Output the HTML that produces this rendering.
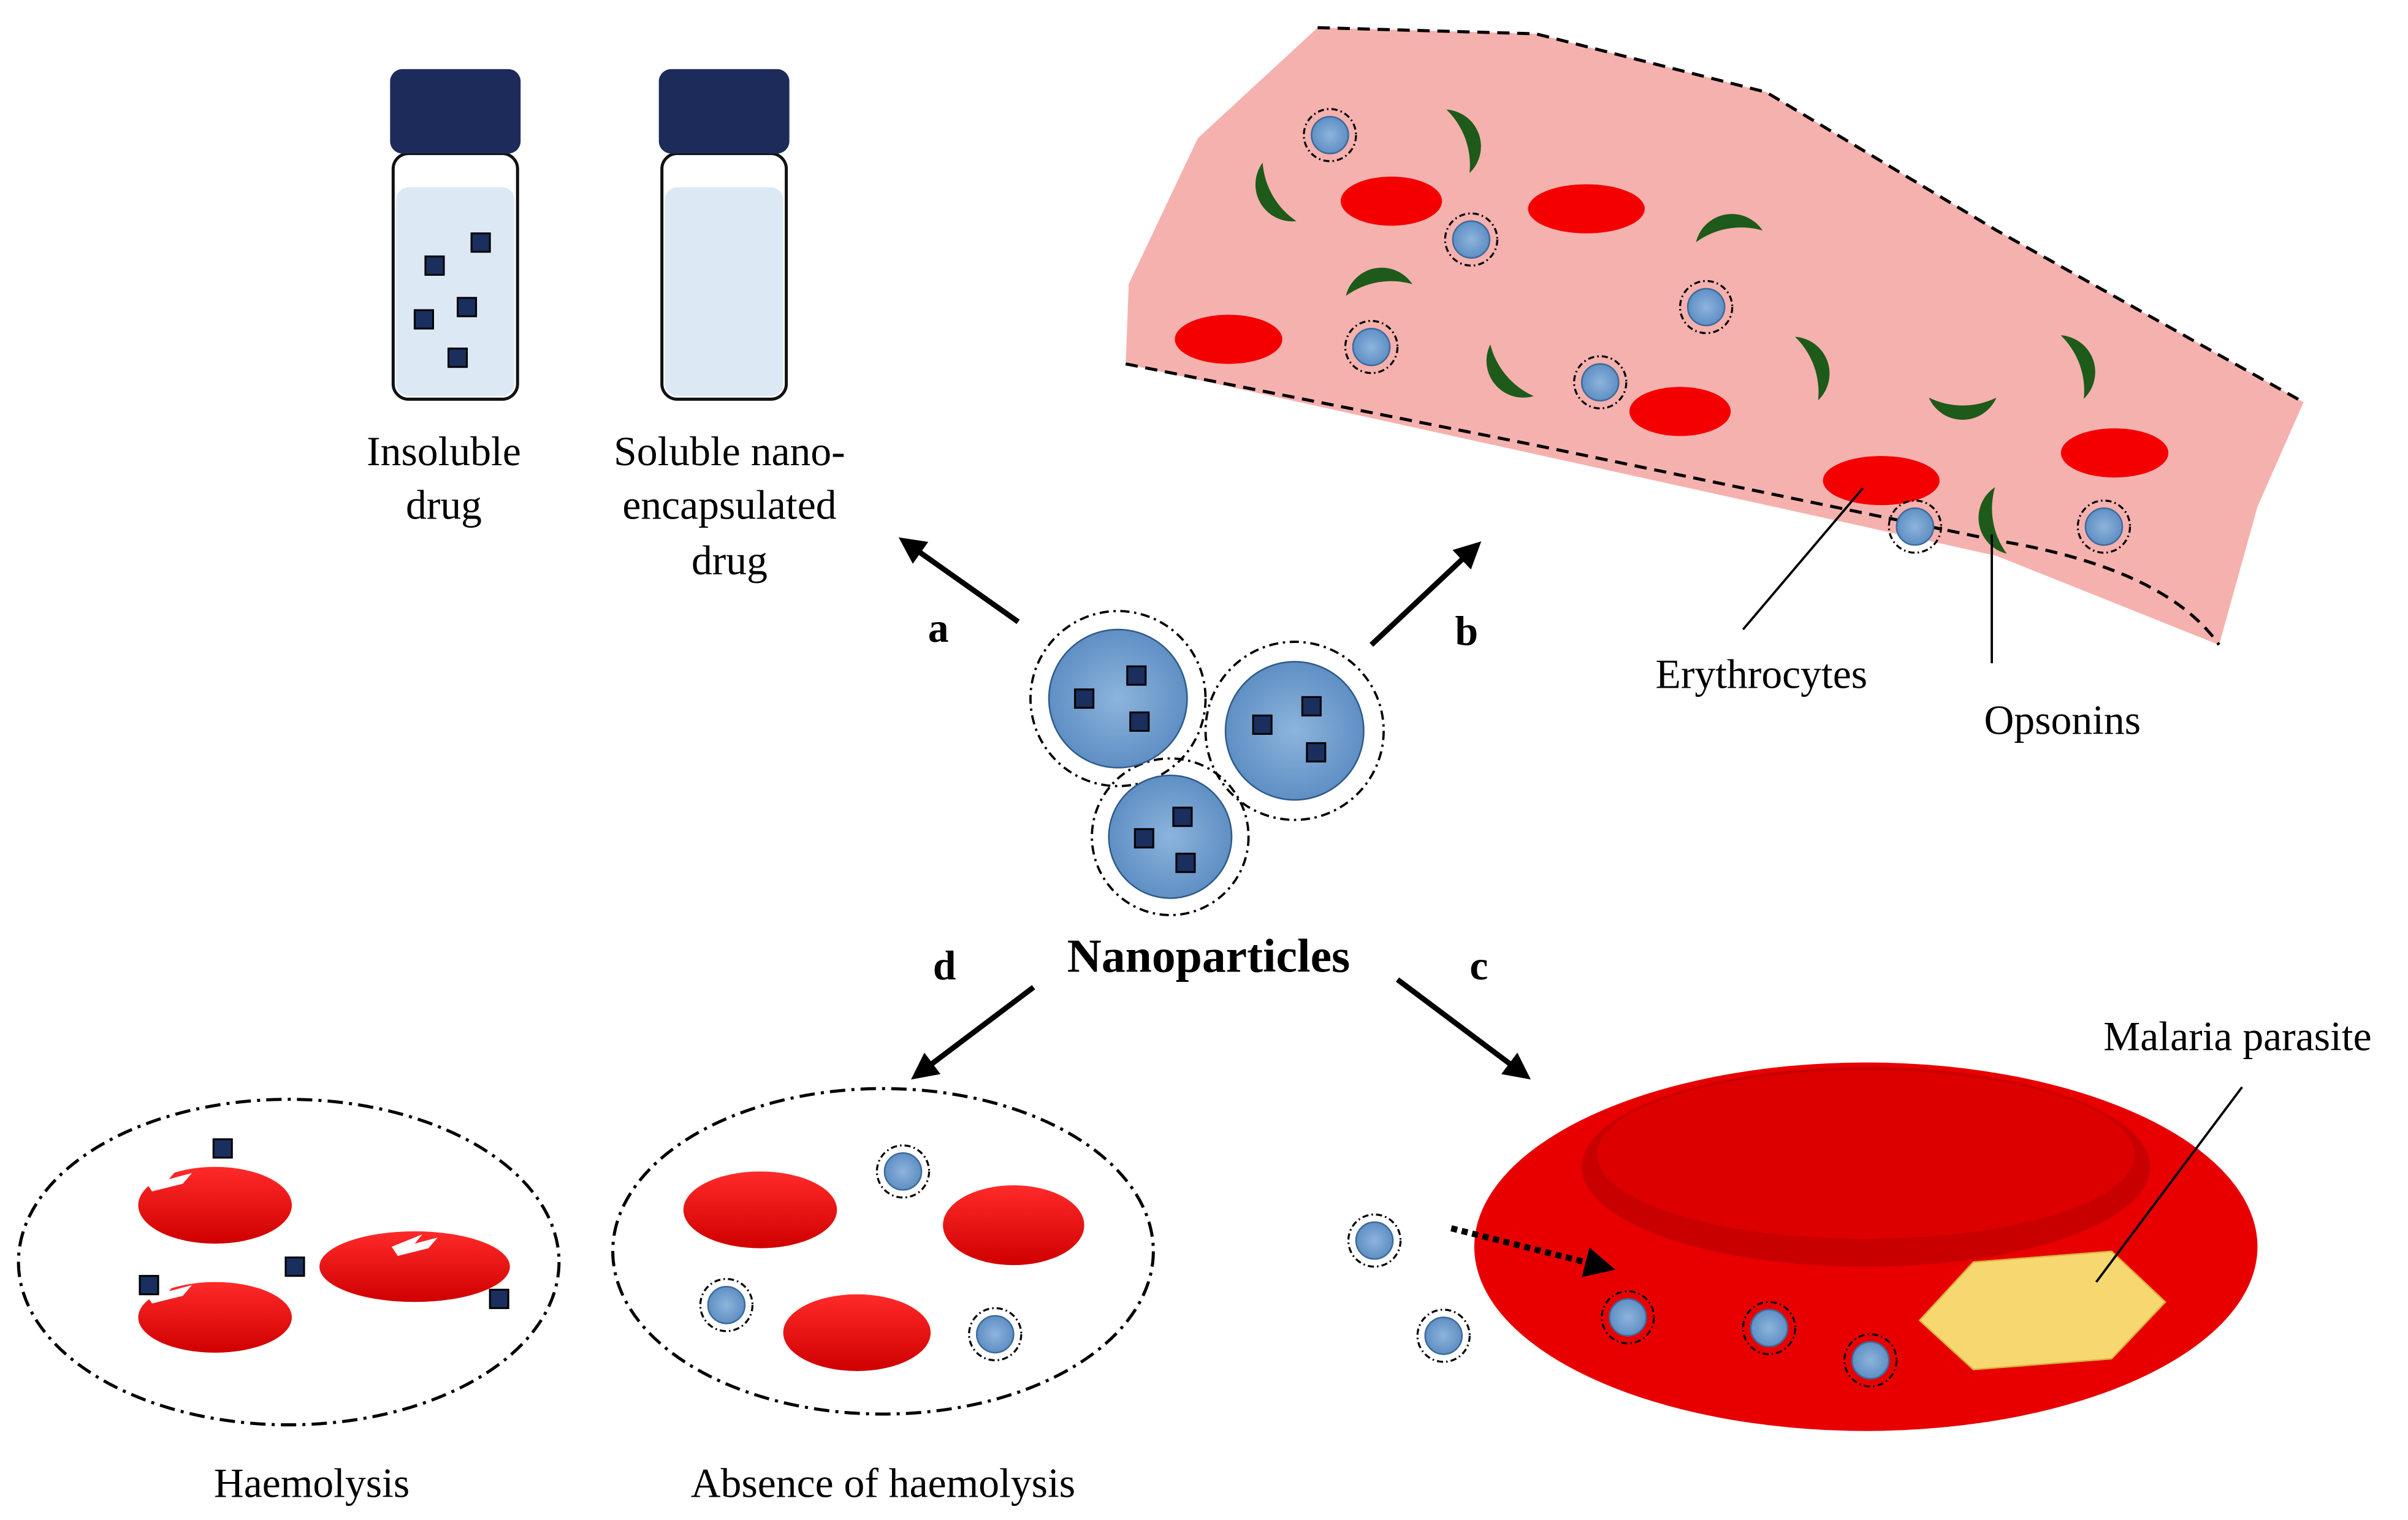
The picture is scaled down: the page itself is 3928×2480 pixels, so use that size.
<!DOCTYPE html>
<html><head><meta charset="utf-8"><style>
html,body{margin:0;padding:0;background:#fff}
svg{display:block}
text{font-family:"Liberation Serif",serif;fill:#000}
</style></head><body>
<svg width="3928" height="2480" viewBox="0 0 1568 990" xmlns="http://www.w3.org/2000/svg">
<defs>
<marker id="ah" viewBox="0 0 10 10" refX="8" refY="5" markerWidth="5" markerHeight="5" orient="auto"><path d="M0,0L10,5L0,10z" fill="#000"/></marker>
<radialGradient id="np" cx="50%" cy="50%" r="50%"><stop offset="0" stop-color="#8db4dc"/><stop offset="1" stop-color="#5f8fc4"/></radialGradient>
<linearGradient id="rbc" x1="0" y1="0" x2="0" y2="1"><stop offset="0" stop-color="#ff2a2a"/><stop offset="1" stop-color="#d00000"/></linearGradient>
<g id="snp"><circle r="17" fill="none" stroke="#000" stroke-width="1.3" stroke-dasharray="4,2,1,2"/><circle r="12" fill="url(#np)" stroke="#3d6a9a"/></g>
<g id="cube"><rect x="-6" y="-6" width="12" height="12" fill="#1a2f5e" stroke="#000" stroke-width="1.2"/></g>
<g id="cres"><path d="M-22,-6 A24,24 0 0 0 22,-6 A50,50 0 0 1 -22,-6z" fill="#1e5a1a"/></g>
</defs>

<!-- Vials -->
<g>
<rect x="256" y="100" width="81" height="160" rx="10" fill="#fff" stroke="#111" stroke-width="2"/>
<rect x="258" y="122" width="77" height="136" rx="8" fill="#dce9f5"/>
<rect x="254" y="45" width="85" height="55" rx="8" fill="#1c2b5a"/>
<use href="#cube" x="283" y="173"/><use href="#cube" x="313" y="158"/><use href="#cube" x="276" y="208"/><use href="#cube" x="304" y="200"/><use href="#cube" x="298" y="233"/>
<rect x="431" y="100" width="81" height="160" rx="10" fill="#fff" stroke="#111" stroke-width="2"/>
<rect x="433" y="122" width="77" height="136" rx="8" fill="#dce9f5"/>
<rect x="429" y="45" width="85" height="55" rx="8" fill="#1c2b5a"/>
</g>
<text x="289" y="303" font-size="27" text-anchor="middle">Insoluble</text>
<text x="289" y="338" font-size="27" text-anchor="middle">drug</text>
<text x="475" y="303" font-size="27" text-anchor="middle">Soluble nano-</text>
<text x="475" y="338" font-size="27" text-anchor="middle">encapsulated</text>
<text x="475" y="374" font-size="27" text-anchor="middle">drug</text>

<!-- arrows -->
<g stroke="#000" stroke-width="3.5" fill="none" marker-end="url(#ah)">
<line x1="663" y1="405" x2="588" y2="352"/>
<line x1="893" y1="420" x2="962" y2="355"/>
<line x1="673" y1="643" x2="596" y2="701"/>
<line x1="910" y1="638" x2="994" y2="701"/>
</g>
<text x="611" y="418" font-size="27" font-weight="bold" text-anchor="middle">a</text>
<text x="955" y="420" font-size="27" font-weight="bold" text-anchor="middle">b</text>
<text x="615" y="638" font-size="27" font-weight="bold" text-anchor="middle">d</text>
<text x="963" y="638" font-size="27" font-weight="bold" text-anchor="middle">c</text>
<text x="787" y="633" font-size="31" font-weight="bold" text-anchor="middle">Nanoparticles</text>

<!-- big nanoparticles -->
<g stroke="#000" stroke-width="1.5" fill="none" stroke-dasharray="6,3,1.5,3">
<circle cx="728" cy="455" r="57"/><circle cx="843" cy="476" r="58"/><circle cx="762" cy="545" r="51"/>
</g>
<circle cx="728" cy="455" r="45" fill="url(#np)" stroke="#2f5a8a"/>
<circle cx="843" cy="476" r="45" fill="url(#np)" stroke="#2f5a8a"/>
<circle cx="762" cy="545" r="40" fill="url(#np)" stroke="#2f5a8a"/>
<use href="#cube" x="740" y="440"/><use href="#cube" x="706" y="455"/><use href="#cube" x="742" y="470"/>
<use href="#cube" x="822" y="472"/><use href="#cube" x="854" y="460"/><use href="#cube" x="857" y="490"/>
<use href="#cube" x="770" y="532"/><use href="#cube" x="745" y="546"/><use href="#cube" x="772" y="562"/>

<!-- vessel -->
<path d="M858,18 L1000,22 L1150,60 L1300,150 L1500,262 L1470,330 L1445,420 L1300,362 L733,237 L735,185 L780,90 Z" fill="#f5b1ae"/>
<path d="M858,18 L1000,22 L1150,60 L1300,150 L1500,262" fill="none" stroke="#000" stroke-width="2" stroke-dasharray="8,5"/>
<path d="M733,237 L1000,290 L1300,352 Q1410,370 1445,420" fill="none" stroke="#000" stroke-width="2" stroke-dasharray="8,5"/>
<g fill="#f50000">
<ellipse cx="906" cy="131" rx="33" ry="16"/><ellipse cx="1033" cy="136" rx="38" ry="16"/><ellipse cx="800" cy="221" rx="35" ry="16"/>
<ellipse cx="1094" cy="268" rx="33" ry="16"/><ellipse cx="1225" cy="313" rx="38" ry="16"/><ellipse cx="1377" cy="295" rx="35" ry="16"/>
</g>
<use href="#cres" transform="translate(955,90) rotate(-110)"/>
<use href="#cres" transform="translate(828,128) rotate(60)"/>
<use href="#cres" transform="translate(1125,148) rotate(170)"/>
<use href="#cres" transform="translate(897,183) rotate(170)"/>
<use href="#cres" transform="translate(980,245) rotate(50)"/>
<use href="#cres" transform="translate(1182,238) rotate(-110)"/>
<use href="#cres" transform="translate(1278,265) rotate(0)"/>
<use href="#cres" transform="translate(1355,237) rotate(-110)"/>
<use href="#cres" transform="translate(1297,340) rotate(80)"/>
<use href="#snp" x="866" y="88"/><use href="#snp" x="958" y="156"/><use href="#snp" x="893" y="226"/><use href="#snp" x="1111" y="200"/>
<use href="#snp" x="1042" y="249"/><use href="#snp" x="1247" y="343"/><use href="#snp" x="1370" y="343"/>
<line x1="1135" y1="410" x2="1213" y2="318" stroke="#000" stroke-width="1.5"/>
<line x1="1297" y1="432" x2="1297" y2="348" stroke="#000" stroke-width="1.5"/>
<text x="1147" y="448" font-size="27" text-anchor="middle">Erythrocytes</text>
<text x="1343" y="478" font-size="27" text-anchor="middle">Opsonins</text>

<!-- haemolysis -->
<ellipse cx="188" cy="822" rx="176" ry="106" fill="none" stroke="#000" stroke-width="2" stroke-dasharray="10,4,2,4"/>
<ellipse cx="575" cy="815" rx="176" ry="106" fill="none" stroke="#000" stroke-width="2" stroke-dasharray="10,4,2,4"/>
<g fill="url(#rbc)">
<ellipse cx="140" cy="785" rx="50" ry="25"/><ellipse cx="270" cy="825" rx="62" ry="23"/><ellipse cx="140" cy="858" rx="50" ry="23"/>
<ellipse cx="495" cy="788" rx="50" ry="25"/><ellipse cx="660" cy="798" rx="46" ry="26"/><ellipse cx="558" cy="868" rx="48" ry="25"/>
</g>
<g fill="#fff"><path d="M95,770 l20,-8 -5,6 15,-4 -6,7 -20,5z"/><path d="M95,843 l20,-8 -5,6 15,-4 -6,7 -20,5z"/><path d="M255,812 l20,-8 -5,6 15,-4 -6,7 -20,5z"/></g>
<use href="#cube" x="145" y="748"/><use href="#cube" x="97" y="837"/><use href="#cube" x="192" y="825"/><use href="#cube" x="325" y="846"/>
<use href="#snp" x="588" y="763"/><use href="#snp" x="473" y="850"/><use href="#snp" x="648" y="869"/>
<text x="203" y="975" font-size="27" text-anchor="middle">Haemolysis</text>
<text x="575" y="975" font-size="27" text-anchor="middle">Absence of haemolysis</text>

<!-- big RBC -->
<ellipse cx="1215" cy="812" rx="255" ry="120" fill="#e80000"/>
<ellipse cx="1215" cy="760" rx="185" ry="65" fill="#c80000"/>
<ellipse cx="1215" cy="752" rx="175" ry="55" fill="#dd0000"/>
<polygon points="1250,860 1285,822 1375,815 1410,848 1375,885 1285,892" fill="#f7d870" stroke="#d9b340"/>
<line x1="1460" y1="708" x2="1365" y2="835" stroke="#000" stroke-width="1.5"/>
<text x="1457" y="684" font-size="27" text-anchor="middle">Malaria parasite</text>
<line x1="945" y1="800" x2="1048" y2="826" stroke="#000" stroke-width="4" stroke-dasharray="4,3" marker-end="url(#ah)"/>
<use href="#snp" x="895" y="808"/><use href="#snp" x="940" y="870"/><use href="#snp" x="1060" y="858"/><use href="#snp" x="1152" y="865"/><use href="#snp" x="1218" y="886"/>
</svg>
</body></html>
